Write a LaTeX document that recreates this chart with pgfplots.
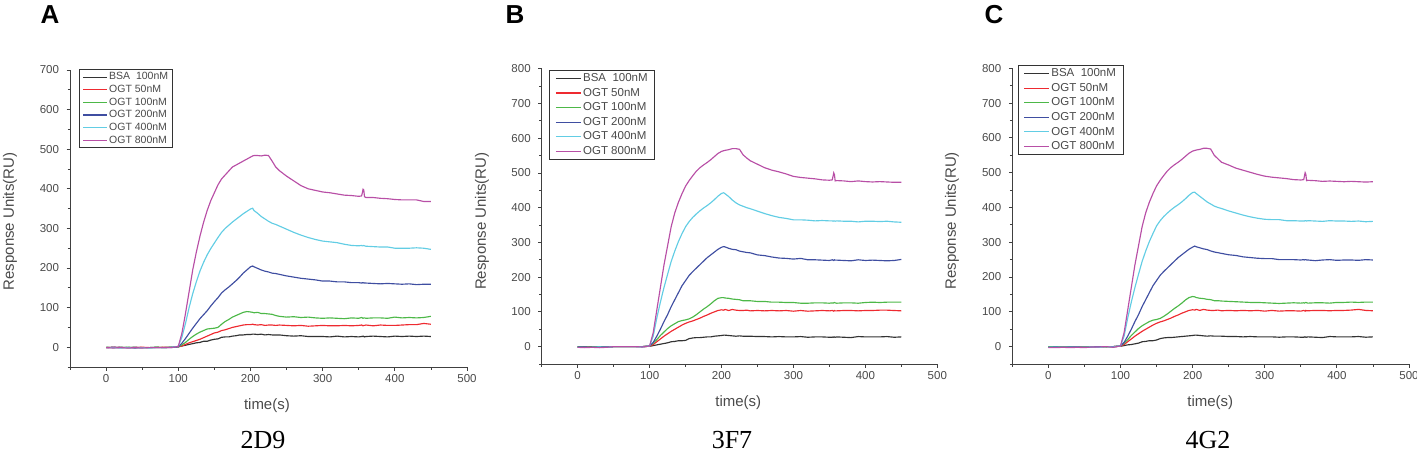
\documentclass[border=0pt]{standalone}
\usepackage{fontspec}
\setmainfont{Liberation Sans}
\newfontfamily\capfont{Liberation Serif}
\usepackage{pgfplots}
\usepackage{pgfplotstable}
\pgfplotsset{compat=1.18}

\definecolor{cbsa}{HTML}{333333}
\definecolor{cfifty}{HTML}{EE2A30}
\definecolor{chund}{HTML}{4DB848}
\definecolor{ctwo}{HTML}{3F4EA1}
\definecolor{cfour}{HTML}{62CDE4}
\definecolor{ceight}{HTML}{B84FA6}
\definecolor{txt}{HTML}{4A4A4A}

% t, BSA 100, OGT 50, 100, 200, 400, 800
\pgfplotstableread{
t bsa a b c d e
0 -1 -1 0 -1 -1 -1
10 -1 0 -1 0 -1 -2
20 0 -1 -1 -1 -2 -1
30 -1 -1 0 -1 -1 -2
40 0 -1 -1 -2 -1 -1
50 -1 0 -1 -1 -1 -2
60 -1 -1 -1 -1 -2 -1
70 0 -1 0 -1 -1 -1
80 -1 0 -1 -1 -1 -1
90 0 0 0 -1 0 -1
100 1 1 1 1 2 2
105 3 3 6 10 25 35
110 5 7 12 22 60 85
115 7 11 20 35 100 140
120 9 14 27 48 135 195
125 11 17 33 60 165 240
130 12 20 38 72 192 280
135 15 24 42 82 214 315
140 15 28 46 92 233 345
145 18 32 47 104 249 370
150 20 36 48 115 263 390
155 21 38 50 125 277 410
160 25 42 58 137 290 425
165 26 44 65 145 300 435
170 26 47 70 152 308 445
175 28 50 76 160 316 455
180 29 52 80 168 323 460
185 31 54 84 177 330 465
190 31 56 88 187 337 470
195 32 57 90 195 343 475
200 32 57 89 203 349 480
203 33 58 88 205 351 483
205 33 57 87 203 345 484
210 32 56 88 199 338 484
215 33 57 85 195 330 483
220 31 55 85 192 324 485
225 32 56 84 190 318 484
230 31 56 83 187 313 470
235 31 55 80 186 310 455
240 31 56 78 184 306 446
250 29 55 76 180 298 432
260 28 54 77 177 290 420
270 29 55 75 174 283 408
280 27 53 76 172 277 400
290 27 54 74 170 272 396
300 27 55 73 167 268 392
310 26 54 74 167 266 390
320 28 54 73 165 264 387
330 26 55 72 165 260 384
340 27 54 74 163 257 383
350 26 55 73 163 256 381
354 27 56 75 162 257 382
355 27 55 74 163 256 390
356 28 54 73 162 256 399
357 27 55 74 163 257 397
358 26 55 74 162 256 380
360 27 56 73 162 255 378
370 28 54 74 161 254 378
380 27 56 74 160 253 376
390 26 55 73 161 253 375
400 28 55 76 160 250 373
410 27 56 74 159 250 372
420 28 57 75 160 250 372
430 27 57 74 158 251 372
440 28 60 75 159 250 368
450 27 58 78 159 247 368
}\tableA

\pgfplotstableread{
t bsa a b c d e
0 -1 -1 0 -1 -2 -2
10 -1 0 -1 -1 -2 -3
20 0 -1 -1 -2 -2 -2
30 -1 -1 0 -1 -1 -3
40 0 -1 -1 -1 -2 -2
50 0 0 0 0 0 0
60 0 0 0 0 0 0
70 0 0 0 0 0 0
80 0 0 0 0 0 0
90 0 0 0 0 -1 -1
100 1 1 2 2 2 2
105 3 6 10 12 30 40
110 5 14 20 30 82 105
115 7 22 32 50 128 170
120 9 30 42 72 170 235
125 11 37 52 92 208 290
130 14 44 60 115 245 345
135 15 50 66 135 275 385
140 17 56 72 155 302 415
145 17 62 75 175 325 440
150 18 67 77 190 345 462
155 23 71 80 205 360 478
160 25 74 85 216 372 492
165 26 78 92 226 382 505
170 26 82 100 236 391 515
175 27 87 108 246 399 523
180 28 91 115 256 406 530
185 28 96 123 264 414 538
190 30 100 132 272 423 547
195 31 104 139 280 433 556
200 32 106 141 286 441 562
203 33 105 141 288 443 564
205 33 107 140 287 440 565
210 32 104 139 283 432 567
215 31 107 137 280 422 570
220 30 105 136 279 414 570
225 31 104 135 275 408 568
230 30 104 132 273 404 552
235 30 105 132 271 400 543
240 30 103 132 270 397 535
250 29 104 130 264 390 525
260 29 103 130 262 383 515
270 28 104 128 258 377 508
280 29 103 128 255 372 503
290 28 104 127 254 369 497
300 28 102 127 252 365 490
310 29 104 125 254 365 487
320 27 102 125 250 364 485
330 28 103 126 250 362 483
340 28 104 126 249 363 480
350 27 103 125 248 362 479
354 27 104 126 250 362 480
355 28 103 125 249 361 490
356 27 102 126 248 362 500
357 28 104 127 250 362 495
358 27 103 126 249 361 477
360 28 103 125 249 362 478
370 27 104 126 248 361 477
380 26 104 126 247 361 475
390 29 103 125 250 359 477
400 28 104 127 248 361 475
410 28 104 128 249 361 474
420 28 105 127 248 360 475
430 29 105 128 247 361 474
440 27 104 128 248 359 473
450 28 103 128 251 358 473
}\tableB

\pgfplotstableread{
t bsa a b c d e
0 -2 -1 0 -2 -2 -3
10 -1 0 0 -1 -2 -3
20 -1 -1 -1 -2 -2 -2
30 -1 -1 -1 -1 -2 -3
40 -1 -1 -2 -1 -2 -2
50 -1 0 -1 -2 -2 -3
60 0 0 0 -1 -1 -1
70 0 -1 0 0 -2 -1
80 0 0 -1 0 0 0
90 0 0 0 0 -1 -2
100 1 1 2 2 2 2
105 3 6 10 12 30 40
110 5 14 20 30 82 105
115 6 22 32 50 128 170
120 8 30 42 72 170 235
125 10 37 52 92 208 290
130 14 44 60 115 245 345
135 15 50 66 135 275 385
140 17 56 72 155 302 415
145 17 62 76 175 325 440
150 19 67 78 190 347 462
155 23 71 81 205 362 478
160 25 74 87 216 374 492
165 26 78 94 226 384 505
170 26 82 102 236 393 515
175 27 87 110 246 401 523
180 28 91 117 256 408 530
185 29 96 125 264 416 538
190 30 100 134 272 425 547
195 31 104 141 280 435 556
200 32 106 144 286 443 562
203 33 105 143 289 444 564
205 33 107 141 287 440 565
210 32 104 139 284 432 567
215 31 107 138 281 424 570
220 30 105 136 279 416 570
225 31 104 135 275 410 568
230 30 104 132 272 404 550
235 30 105 132 270 400 540
240 30 103 131 268 397 530
250 29 104 130 264 390 522
260 29 103 129 262 384 513
270 28 104 128 258 378 507
280 29 103 127 256 373 501
290 28 104 127 254 369 495
300 28 102 126 253 366 490
310 28 104 125 253 365 487
320 27 102 124 250 365 485
330 28 103 125 250 362 483
340 28 103 126 250 362 480
350 27 102 125 249 361 479
354 27 104 126 250 361 480
355 28 103 125 249 361 490
356 27 102 126 250 362 500
357 28 104 127 250 362 495
358 27 103 126 249 361 477
360 28 103 125 249 362 478
370 27 104 126 247 361 477
380 26 104 126 249 360 475
390 29 103 125 250 362 476
400 28 104 127 248 361 475
410 28 104 127 249 361 474
420 28 105 128 249 360 475
430 29 107 127 248 361 474
440 27 104 128 250 359 473
450 28 103 128 249 360 474
}\tableC

\pgfplotsset{
  spr/.style={
    scale only axis,
    axis lines=left,
    axis line style={-,color=black!75,line width=1pt},
    tick align=outside,
    major tick length=3.5pt,
    minor tick length=2.5pt,
    tick style={color=black!75,line width=0.8pt},
    xmin=-50,xmax=500,
    ymin=-50,
    xtick={0,100,...,500},
    minor xtick={-50,50,150,...,450},
    minor ytick={-50,50,150,...,750},
    scaled ticks=false,
    /pgf/number format/assume math mode=true,
    tick label style={font=\fontsize{11.5}{12}\selectfont,color=txt},
    yticklabel style={xshift=-4pt},
    label style={font=\fontsize{15}{15}\selectfont,color=txt},
    xlabel={time(s)},
    ylabel={Response Units(RU)},
    clip=false,
    legend cell align=left,
    every axis plot/.append style={line width=1.15pt},
  },
  smallleg/.style={
    legend image code/.code={\draw[##1,line width=1.15pt] (0pt,0pt) -- (24pt,0pt);},
    legend style={font=\fontsize{10.5}{10.5}\selectfont,text=txt,draw=black!80,line width=0.9pt,
      inner xsep=3pt,inner ysep=1.5pt,row sep=0.6pt,nodes={inner sep=1.6pt}},
  },
  bigleg/.style={
    legend image code/.code={\draw[##1,line width=1.15pt] (0pt,0pt) -- (25pt,0pt);},
    legend style={font=\fontsize{11.5}{11.5}\selectfont,text=txt,draw=black!80,line width=0.9pt,
      inner xsep=5.5pt,inner ysep=1.5pt,row sep=1.8pt,nodes={inner sep=1.6pt}},
  },
}

\newcommand{\sixplots}[1]{
  \addplot[cbsa] table[x=t,y=bsa] {#1};
  \addplot[cfifty] table[x=t,y=a] {#1};
  \addplot[chund] table[x=t,y=b] {#1};
  \addplot[ctwo] table[x=t,y=c] {#1};
  \addplot[cfour] table[x=t,y=d] {#1};
  \addplot[ceight] table[x=t,y=e] {#1};
  \legend{BSA\ \ 100nM,OGT 50nM,OGT 100nM,OGT 200nM,OGT 400nM,OGT 800nM}
}

\begin{document}
\begin{tikzpicture}[x=1pt,y=1pt]
\path[use as bounding box] (0,0) rectangle (1417,451);

\begin{axis}[spr,smallleg,at={(70pt,84pt)},anchor=south west,width=397pt,height=297pt,
  ymax=700,ytick={0,100,...,700},
  xlabel style={at={(axis description cs:0.496,-0.13)},anchor=center},
  ylabel style={at={(axis description cs:-0.151,0.49)},anchor=center},
  legend style={at={(axis description cs:0.0227,1.003)},anchor=north west},
]
\sixplots{\tableA}
\end{axis}

\begin{axis}[spr,bigleg,at={(541.7pt,87pt)},anchor=south west,width=395.6pt,height=295.3pt,
  ymax=800,ytick={0,100,...,800},
  xlabel style={at={(axis description cs:0.497,-0.13)},anchor=center},
  ylabel style={at={(axis description cs:-0.151,0.484)},anchor=center},
  legend style={at={(axis description cs:0.0195,0.995)},anchor=north west},
]
\sixplots{\tableB}
\end{axis}

\begin{axis}[spr,bigleg,at={(1012.3pt,87pt)},anchor=south west,width=396.7pt,height=295.7pt,
  ymax=800,ytick={0,100,...,800},
  xlabel style={at={(axis description cs:0.499,-0.13)},anchor=center},
  ylabel style={at={(axis description cs:-0.152,0.484)},anchor=center},
  legend style={at={(axis description cs:0.0136,1.01)},anchor=north west},
]
\sixplots{\tableC}
\end{axis}

\node[font=\fontsize{26}{26}\selectfont\bfseries] at (50,436) {A};
\node[font=\fontsize{26}{26}\selectfont\bfseries] at (515,436) {B};
\node[font=\fontsize{26}{26}\selectfont\bfseries] at (994,436) {C};
\node[inner sep=0pt,font=\fontsize{26}{26}\selectfont\capfont] at (263,11) {2D9};
\node[inner sep=0pt,font=\fontsize{26}{26}\selectfont\capfont] at (732,11) {3F7};
\node[inner sep=0pt,font=\fontsize{26}{26}\selectfont\capfont] at (1208,11) {4G2};
\end{tikzpicture}
\end{document}
